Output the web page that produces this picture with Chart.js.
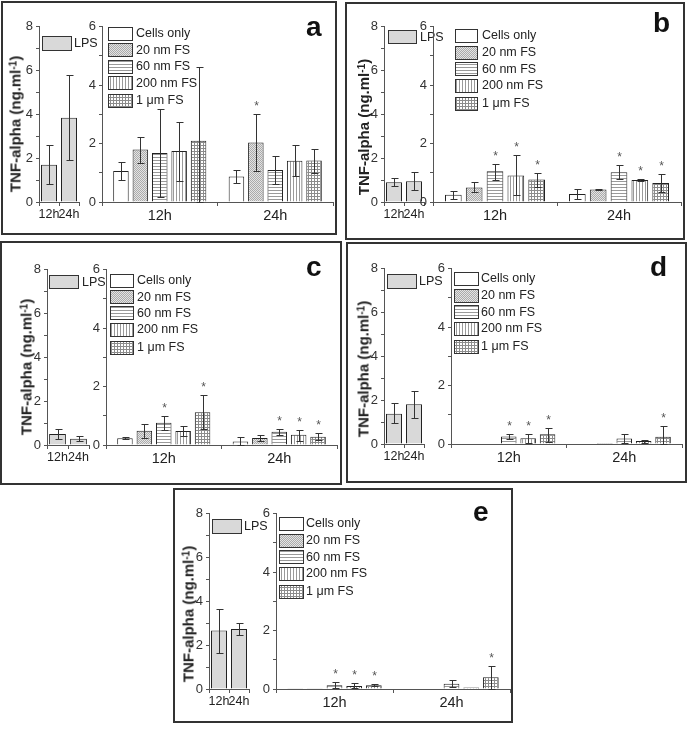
<!DOCTYPE html>
<html><head><meta charset="utf-8">
<script src="https://cdn.jsdelivr.net/npm/chart.js@4.4.0/dist/chart.umd.min.js"></script>
<style>
body{margin:0;background:#fff;}
#fig{position:relative;width:687px;height:729px;overflow:hidden;font-family:"Liberation Sans",Arial,sans-serif;background:#fff;}
.box{position:absolute;border:2px solid #333;box-sizing:border-box;}
canvas{position:absolute;}
.ttl{position:absolute;font-weight:bold;font-size:15px;line-height:15px;color:#222;white-space:nowrap;transform:translate(-50%,-50%) rotate(-90deg);}
.ttl sup{font-size:10px;line-height:0;position:relative;top:-0.45em;vertical-align:baseline;}
.ltr{position:absolute;font-weight:bold;font-size:28px;line-height:28px;color:#111;}
</style></head><body><div id="fig"></div>
<script>
// ---------- data ----------
const timeLabels = ['12h', '24h'];
const seriesNames = ['Cells only', '20 nm FS', '60 nm FS', '200 nm FS', '1 \u03bcm FS'];
const lpsName = 'LPS';

// panel a
const a_lps = [1.70, 3.85], a_lpsLow = [0.80, 1.90], a_lpsHigh = [2.60, 5.80];
const a_mean = [[1.06, 0.87], [1.80, 2.04], [1.68, 1.10], [1.75, 1.41], [2.10, 1.42]];
const a_low  = [[0.74, 0.65], [1.33, 1.05], [0.17, 0.62], [0.72, 0.88], [0.00, 1.00]];
const a_high = [[1.37, 1.10], [2.23, 3.02], [3.20, 1.58], [2.75, 1.95], [4.62, 1.83]];
const a_star = [[0, 0], [0, 1], [0, 0], [0, 0], [0, 0]];

// panel b
const b_lps = [0.90, 0.95], b_lpsLow = [0.72, 0.55], b_lpsHigh = [1.10, 1.35];
const b_mean = [[0.25, 0.27], [0.50, 0.43], [1.05, 1.02], [0.91, 0.75], [0.77, 0.65]];
const b_low  = [[0.10, 0.10], [0.33, 0.42], [0.77, 0.79], [0.23, 0.71], [0.52, 0.35]];
const b_high = [[0.38, 0.44], [0.67, 0.44], [1.31, 1.27], [1.60, 0.79], [1.00, 0.95]];
const b_star = [[0, 0], [0, 0], [1, 1], [1, 1], [1, 1]];

// panel c
const c_lps = [0.50, 0.28], c_lpsLow = [0.26, 0.18], c_lpsHigh = [0.74, 0.40];
const c_mean = [[0.23, 0.12], [0.49, 0.24], [0.76, 0.45], [0.48, 0.35], [1.12, 0.28]];
const c_low  = [[0.20, 0.00], [0.23, 0.13], [0.50, 0.33], [0.32, 0.15], [0.55, 0.16]];
const c_high = [[0.26, 0.29], [0.72, 0.33], [1.01, 0.55], [0.64, 0.51], [1.70, 0.40]];
const c_star = [[0, 0], [0, 0], [1, 1], [0, 1], [1, 1]];

// panel d
const d_lps = [1.38, 1.82], d_lpsLow = [0.98, 1.18], d_lpsHigh = [1.86, 2.40];
const d_mean = [[0.00, 0.00], [0.02, 0.03], [0.26, 0.19], [0.20, 0.10], [0.33, 0.25]];
const d_low  = [[0.00, 0.00], [0.02, 0.03], [0.17, 0.04], [0.05, 0.04], [0.08, 0.00]];
const d_high = [[0.00, 0.00], [0.02, 0.03], [0.34, 0.35], [0.35, 0.15], [0.54, 0.62]];
const d_star = [[0, 0], [0, 0], [1, 0], [1, 0], [1, 1]];

// panel e
const e_lps = [2.67, 2.74], e_lpsLow = [1.65, 2.47], e_lpsHigh = [3.64, 3.02];
const e_mean = [[0.01, 0.00], [0.01, 0.00], [0.13, 0.18], [0.10, 0.05], [0.13, 0.40]];
const e_low  = [[0.01, 0.00], [0.01, 0.00], [0.02, 0.06], [0.02, 0.05], [0.11, 0.00]];
const e_high = [[0.01, 0.00], [0.01, 0.00], [0.25, 0.30], [0.20, 0.05], [0.16, 0.80]];
const e_star = [[0, 0], [0, 0], [1, 0], [1, 0], [1, 1]];

// ---------- layout (page pixels) ----------
const panels = [
  {letter:'a', box:[1,1,336,234], lps:[39,79,26,202], main:[102,333,26,202],
   leg:{bx:108,bw:24,bh:13,tx:136,rows:[33,49.5,66,82.5,100]}, lleg:{bx:42,bw:29,bh:14,cy:43,tx:74},
   ltr:[306,13], ttl:[15,124],
   lpsM:a_lps, lpsL:a_lpsLow, lpsH:a_lpsHigh, mean:a_mean, low:a_low, high:a_high, star:a_star},
  {letter:'b', box:[345,2,340,238], lps:[384,424,25.7,201.7], main:[433,681,25.7,201.7],
   leg:{bx:455,bw:22,bh:13,tx:482,rows:[35,52,68.5,85,103]}, lleg:{bx:388,bw:28,bh:13,cy:36.5,tx:420},
   ltr:[653,9], ttl:[362.5,127],
   lpsM:b_lps, lpsL:b_lpsLow, lpsH:b_lpsHigh, mean:b_mean, low:b_low, high:b_high, star:b_star},
  {letter:'c', box:[0,241,342,244], lps:[47,89,269.3,445.7], main:[106,337,269.3,445.7],
   leg:{bx:110,bw:23,bh:13,tx:137,rows:[280,296.5,312.5,329,347]}, lleg:{bx:49,bw:29,bh:13,cy:281.5,tx:82},
   ltr:[306,253], ttl:[26,367],
   lpsM:c_lps, lpsL:c_lpsLow, lpsH:c_lpsHigh, mean:c_mean, low:c_low, high:c_high, star:c_star},
  {letter:'d', box:[346,242,341,241], lps:[384.3,424,268.3,444.3], main:[451,682,268.3,444.3],
   leg:{bx:454,bw:24,bh:13,tx:481,rows:[278,295,311.5,328,346]}, lleg:{bx:387,bw:29,bh:14,cy:280.5,tx:419},
   ltr:[650,253], ttl:[362.5,369],
   lpsM:d_lps, lpsL:d_lpsLow, lpsH:d_lpsHigh, mean:d_mean, low:d_low, high:d_high, star:d_star},
  {letter:'e', box:[173,488,340,235], lps:[209,249,513.3,689.3], main:[276,510,513.3,689.3],
   leg:{bx:279,bw:24,bh:13,tx:306,rows:[523,540,556.5,573,591]}, lleg:{bx:212,bw:29,bh:14,cy:525.5,tx:244},
   ltr:[473,498], ttl:[187.5,614],
   lpsM:e_lps, lpsL:e_lpsLow, lpsH:e_lpsHigh, mean:e_mean, low:e_low, high:e_high, star:e_star}
];

// ---------- styles ----------
const FONT = '"Liberation Sans", Arial, sans-serif';
function pattern(kind){
  const n = kind === 'dots' ? 2 : 3;
  const c = document.createElement('canvas'); c.width = n; c.height = n;
  const g = c.getContext('2d');
  g.fillStyle = '#ffffff'; g.fillRect(0,0,n,n);
  if (kind === 'dots'){ g.fillStyle='#e4e4e4'; g.fillRect(0,0,n,n); g.fillStyle='#ababab'; g.fillRect(0,0,1,1); g.fillRect(1,1,1,1); }
  if (kind === 'h'){ g.fillStyle='#9a9a9a'; g.fillRect(0,0,n,1); }
  if (kind === 'v'){ g.fillStyle='#9a9a9a'; g.fillRect(0,0,1,n); }
  if (kind === 'grid'){ g.fillStyle='#8c8c8c'; g.fillRect(0,0,n,1); g.fillRect(0,0,1,n); }
  return g.createPattern(c, 'repeat');
}
const fills = ['#ffffff', pattern('dots'), pattern('h'), pattern('v'), pattern('grid')];
const lpsFill = '#d9d9d9';

// ---------- plugins ----------
const errPlugin = {
  id: 'errBars',
  afterDatasetsDraw(chart){
    const ctx = chart.ctx, ys = chart.scales.y;
    ctx.save();
    chart.data.datasets.forEach((ds, i) => {
      const meta = chart.getDatasetMeta(i);
      meta.data.forEach((el, j) => {
        const lo = ds.errLow[j], hi = ds.errHigh[j];
        const x = Math.round(el.x) + 0.5;
        const yl = Math.round(ys.getPixelForValue(lo)) + 0.5;
        const yh = Math.round(ys.getPixelForValue(hi)) + 0.5;
        if (hi - lo > 0.005){
          ctx.strokeStyle = '#333'; ctx.lineWidth = 1;
          ctx.beginPath();
          ctx.moveTo(x, yl); ctx.lineTo(x, yh);
          ctx.moveTo(x-3, yh); ctx.lineTo(x+4, yh);
          ctx.moveTo(x-3, yl); ctx.lineTo(x+4, yl);
          ctx.stroke();
        }
        if (ds.stars && ds.stars[j]){
          const top = Math.min(yh, el.y);
          ctx.fillStyle = '#555'; ctx.font = '12px ' + FONT;
          ctx.textAlign = 'center'; ctx.textBaseline = 'alphabetic';
          ctx.fillText('*', x, top - 5);
        }
      });
    });
    ctx.restore();
  }
};
const legPlugin = {
  id: 'boxLegend',
  afterDraw(chart, args, o){
    const ctx = chart.ctx;
    ctx.save();
    ctx.font = '12.5px ' + FONT; ctx.textBaseline = 'middle'; ctx.textAlign = 'left';
    chart.data.datasets.forEach((ds, i) => {
      const cy = o.rows[i] - o.oy, bx = Math.round(o.bx - o.ox), top = Math.round(cy - o.bh/2);
      ctx.fillStyle = ds.backgroundColor; ctx.fillRect(bx, top, o.bw, o.bh);
      ctx.strokeStyle = '#333'; ctx.lineWidth = 1; ctx.strokeRect(bx + 0.5, top + 0.5, o.bw, o.bh);
      ctx.fillStyle = '#222'; ctx.fillText(ds.label, o.tx - o.ox, cy + 1);
    });
    ctx.restore();
  }
};

// ---------- builders ----------
const fig = document.getElementById('fig');
function addCanvas(l, t, w, h){
  const c = document.createElement('canvas');
  l = Math.round(l); t = Math.round(t); w = Math.round(w); h = Math.round(h);
  c.width = w; c.height = h;
  c.style.left = l + 'px'; c.style.top = t + 'px'; c.style.width = w + 'px'; c.style.height = h + 'px';
  fig.appendChild(c);
  return {c, l, t};
}
function scales(yMax, yW, xH, xFont){
  return {
    x: {
      afterFit: s => { s.height = xH; },
      border: {display:true, color:'#555', width:1},
      grid: {display:true, drawOnChartArea:false, drawTicks:true, tickLength:4, color:'#555', offset:true},
      ticks: {color:'#222', font:{family:FONT, size:xFont}, padding:1, autoSkip:false, maxRotation:0, minRotation:0}
    },
    y: {
      min: 0, max: yMax,
      afterFit: s => { s.width = yW; },
      border: {display:true, color:'#555', width:1},
      grid: {display:true, drawOnChartArea:false, drawTicks:true, tickLength:3, color:'#555'},
      ticks: {stepSize:1, color:'#333', font:{family:FONT, size:13}, padding:3,
              callback: v => (v % 2 === 0 ? String(v) : '')}
    }
  };
}
function baseOpts(){
  return {responsive:false, animation:false, devicePixelRatio:1};
}

panels.forEach(p => {
  const bx = document.createElement('div');
  bx.className = 'box';
  bx.style.left = p.box[0] + 'px'; bx.style.top = p.box[1] + 'px';
  bx.style.width = p.box[2] + 'px'; bx.style.height = p.box[3] + 'px';
  fig.appendChild(bx);

  // LPS chart
  {
    const [ax, ar, at, ab] = p.lps;
    const yW = 30, pT = 10, pR = 40, xH = 24;
    const cv = addCanvas(ax - yW, at - pT, yW + (ar - ax) + pR, pT + (ab - at) + xH);
    new Chart(cv.c, {
      type: 'bar',
      data: {labels: timeLabels, datasets: [{
        label: lpsName, data: p.lpsM, errLow: p.lpsL, errHigh: p.lpsH,
        backgroundColor: lpsFill, borderColor: '#222', borderWidth: 1,
        barPercentage: 0.8, categoryPercentage: 1
      }]},
      options: Object.assign(baseOpts(), {
        layout: {padding: {top: pT, right: pR, left: 0, bottom: 0}},
        scales: scales(8, yW, xH, 12.5),
        plugins: {legend:{display:false}, tooltip:{enabled:false},
          boxLegend: {ox: cv.l, oy: cv.t, bx: p.lleg.bx, bw: p.lleg.bw, bh: p.lleg.bh, tx: p.lleg.tx, rows: [p.lleg.cy]}}
      }),
      plugins: [errPlugin, legPlugin]
    });
  }
  // main chart
  {
    const [ax, ar, at, ab] = p.main;
    const yW = 22, pT = 10, pR = 4, xH = 26;
    const cv = addCanvas(ax - yW, at - pT, yW + (ar - ax) + pR, pT + (ab - at) + xH);
    new Chart(cv.c, {
      type: 'bar',
      data: {labels: timeLabels, datasets: seriesNames.map((name, i) => ({
        label: name, data: p.mean[i], errLow: p.low[i], errHigh: p.high[i], stars: p.star[i],
        backgroundColor: fills[i], borderColor: '#222', borderWidth: 1,
        barPercentage: 0.8, categoryPercentage: 0.84
      }))},
      options: Object.assign(baseOpts(), {
        layout: {padding: {top: pT, right: pR, left: 0, bottom: 0}},
        scales: scales(6, yW, xH, 14.5),
        plugins: {legend:{display:false}, tooltip:{enabled:false},
          boxLegend: Object.assign({ox: cv.l, oy: cv.t}, p.leg)}
      }),
      plugins: [errPlugin, legPlugin]
    });
  }
  // axis title and panel letter
  const t = document.createElement('div');
  t.className = 'ttl';
  t.style.left = p.ttl[0] + 'px'; t.style.top = p.ttl[1] + 'px';
  t.innerHTML = 'TNF-alpha (ng.ml<sup>-1</sup>)';
  fig.appendChild(t);
  const L = document.createElement('div');
  L.className = 'ltr';
  L.style.left = p.ltr[0] + 'px'; L.style.top = p.ltr[1] + 'px';
  L.textContent = p.letter;
  fig.appendChild(L);
});
</script></body></html>
